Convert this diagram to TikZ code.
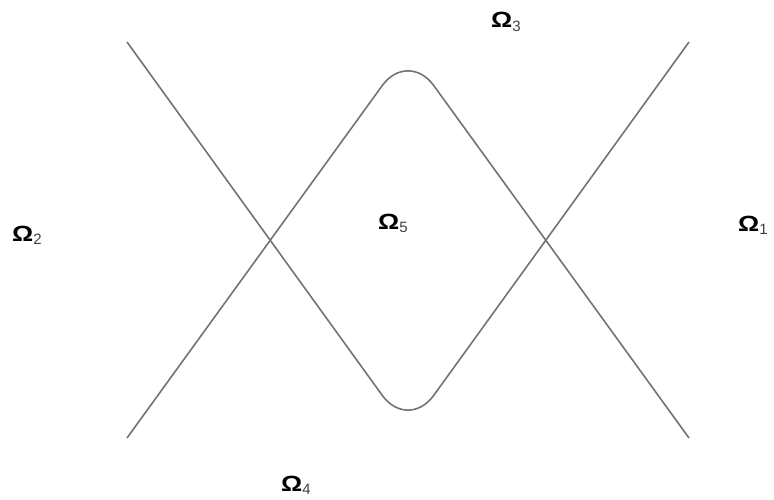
\documentclass[tikz,border=0pt]{standalone}
\usepackage{fontspec}
\setmainfont{Liberation Sans}
\begin{document}
\begin{tikzpicture}[x=1pt,y=-1pt,
  curve/.style={draw=black!55, line width=1.6pt, rounded corners=44pt, line join=round},
  omlabel/.style={anchor=base west, inner sep=0pt, text=black}]
\useasboundingbox (0,0) rectangle (774,500);
\newcommand{\omlab}[1]{{\fontsize{22}{22}\selectfont\bfseries\scalebox{1.2}[1]{Ω}}\raisebox{-3.5pt}{\fontsize{15}{15}\selectfont\color{black!75}#1}}
% coordinates
\coordinate (TL) at (127,42);
\coordinate (BL) at (127,438);
\coordinate (TR) at (689,42);
\coordinate (BR) at (689,438);
\coordinate (TopC) at (408,50);
\coordinate (BotC) at (408,431);
% curves
\draw[curve] (BL) -- (TopC) -- (BR);
\draw[curve] (TL) -- (BotC) -- (TR);
% labels
\node[omlabel] (o1) at (738,231) {\omlab{1}};
\node[omlabel] (o2) at (12,241) {\omlab{2}};
\node[omlabel] (o3) at (491,28) {\omlab{3}};
\node[omlabel] (o4) at (281,491) {\omlab{4}};
\node[omlabel] (o5) at (378,229) {\omlab{5}};
\end{tikzpicture}
\end{document}
